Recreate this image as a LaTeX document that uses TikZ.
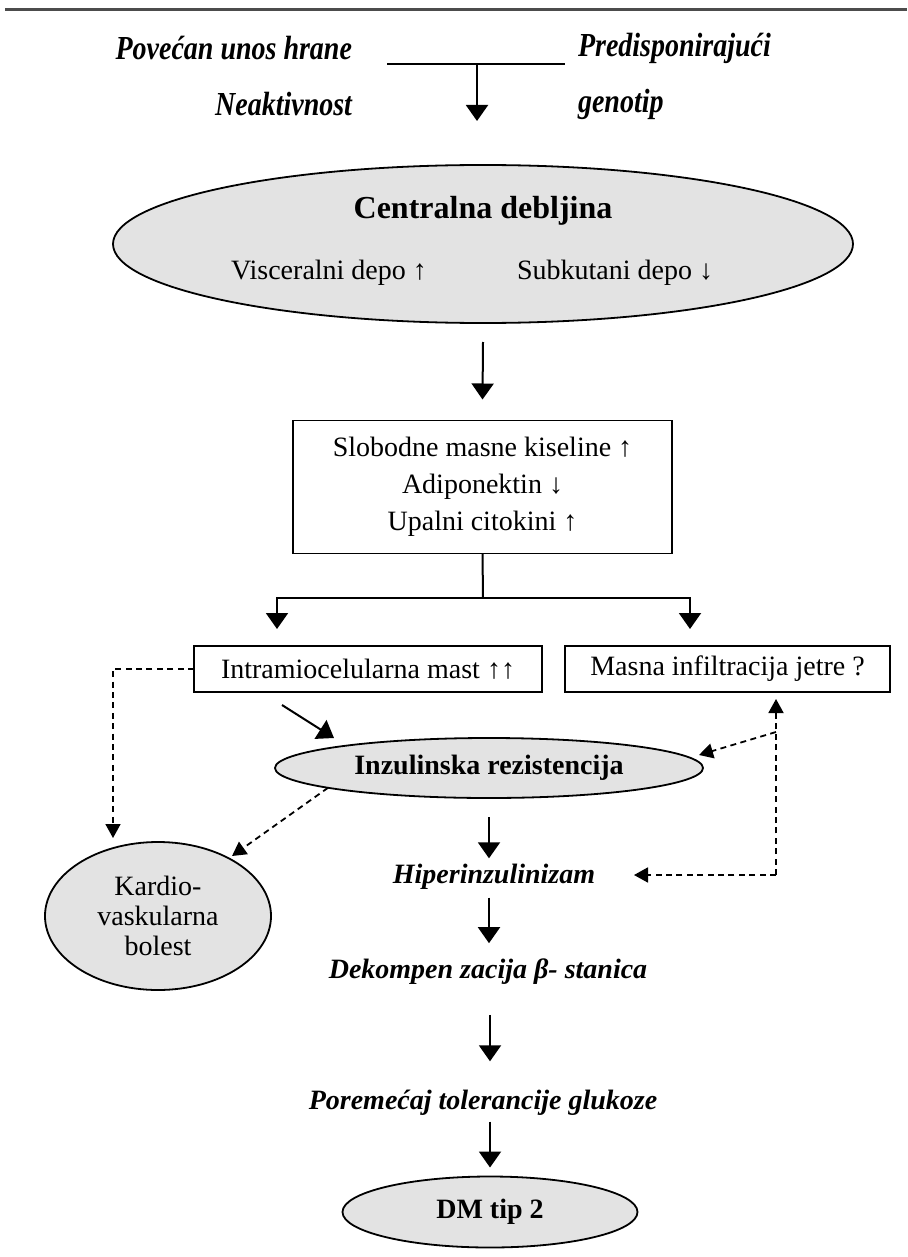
\documentclass[tikz,border=0pt]{standalone}
\usepackage{fontspec}
\usepackage{graphicx}
\setmainfont{Liberation Serif}
\usetikzlibrary{arrows.meta,shapes.geometric}
\definecolor{ellgray}{gray}{0.89}
\definecolor{rulegray}{gray}{0.3}
\newcommand{\tallbi}[1]{\scalebox{1}[1.2]{#1}}
\begin{document}
\begin{tikzpicture}[x=0.5pt,y=-0.5pt,
  every node/.style={inner sep=0pt, outer sep=0pt},
  ell/.style={ellipse, draw, fill=ellgray, line width=0.9pt},
  rbox/.style={draw, line width=0.9pt, minimum height=23pt},
  plain/.style={line width=1pt},
  arr/.style={line width=1pt, -{Triangle[width=11pt,length=8pt]}},
  dline/.style={line width=0.9pt, dash pattern=on 3pt off 2.2pt},
  darr/.style={dline, -{Triangle[width=7.5pt,length=7pt]}},
  bi/.style={font=\fontsize{14}{16}\selectfont\bfseries\itshape},
  rm/.style={font=\fontsize{14}{16}\selectfont},
  bf/.style={font=\fontsize{14}{16}\selectfont\bfseries},
]
\useasboundingbox (0,0) rectangle (907,1257);
% top rule
\coordinate (ruleL) at (5,10);
\coordinate (ruleR) at (907,10);
\draw[rulegray, line width=1.5pt] (ruleL) -- (ruleR);

% causes
\node[bi, anchor=east] (povecan) at (352,48) {\tallbi{Povećan unos hrane}};
\node[bi, anchor=east] (neakt) at (352,104) {\tallbi{Neaktivnost}};
\node[bi, anchor=west] (predisp) at (578,48) {\tallbi{Predisponirajući}};
\node[bi, anchor=west] (genotip) at (578,104) {\tallbi{genotip}};
\coordinate (tl) at (387,64);
\coordinate (tr) at (565,64);
\coordinate (tm) at (477,64);
\coordinate (ttip) at (477,121);
\draw[plain] (tl) -- (tr);
\draw[arr] (tm) -- (ttip);

% central obesity
\node[ell, minimum width=370pt, minimum height=79pt] (cd) at (483,244) {};
\node[font=\fontsize{16}{18}\selectfont\bfseries] (cdt) at (483,211) {Centralna debljina};
\node[rm] (visc) at (329,273) {Visceralni depo ↑};
\node[rm] (subk) at (615,273) {Subkutani depo ↓};

% box
\node[rbox, minimum width=189.5pt, minimum height=66.5pt, align=center,
      font=\fontsize{14}{18.5}\selectfont] (smk) at (482.5,487)
  {Slobodne masne kiseline ↑\\Adiponektin ↓\\Upalni citokini ↑};
\draw[arr] ([yshift=-9.5pt]cd.south) -- ([yshift=10.5pt]smk.north);

% branch
\coordinate (br) at (483,598);
\coordinate (ltip) at (277,629);
\coordinate (rtip) at (690,629);
\draw[plain] (smk.south) -- (br);
\draw[arr] (br) -| (ltip);
\draw[arr] (br) -| (rtip);

\node[rbox, rm, minimum width=174pt] (intra) at (368,669) {Intramiocelularna mast ↑↑};
\node[rbox, rm, minimum width=162.5pt] (masna) at (727.5,669) {Masna infiltracija jetre ?};

% insulin resistance
\node[ell, bf, minimum width=214pt, minimum height=30pt] (inz) at (489,768) {Inzulinska rezistencija};
\coordinate (a1s) at (282,705);
\coordinate (a1e) at (334,738);
\draw[arr] (a1s) -- (a1e);

% cardiovascular
\node[ell, rm, minimum width=113pt, minimum height=74pt, align=center,
      font=\fontsize{14}{14.8}\selectfont] (kard) at (158,916) {Kardio-\\vaskularna\\bolest};
\coordinate (ktip) at (113,838);
\draw[darr] (intra.west) -| (ktip);
\coordinate (kdtip) at (232,856);
\draw[darr] (inz.187) -- (kdtip);

% chain
\node[bi] (hiper) at (494,877) {Hiperinzulinizam};
\node[bi] (dekomp) at (488,972) {Dekompen zacija β- stanica};
\node[bi] (porem) at (483,1103) {Poremećaj tolerancije glukoze};
\node[ell, bf, minimum width=147.5pt, minimum height=35.5pt] (dm) at (490,1212) {DM tip 2};

\draw[arr] ([yshift=-9.5pt]inz.south) -- ([yshift=3pt]hiper.north -| inz.south);
\draw[arr] ([yshift=-4pt]hiper.south -| inz.south) -- ([yshift=8pt]dekomp.north -| inz.south);
\draw[arr] ([yshift=-15pt]dekomp.south -| dm.north) -- ([yshift=14.5pt]porem.north -| dm.north);
\draw[arr] ([yshift=-3pt]porem.south -| dm.north) -- ([yshift=4.5pt]dm.north);

% liver dashed connections
\coordinate (vr) at (776,875);
\coordinate (vm) at (776,732);
\coordinate (mtip) at (776,699);
\coordinate (itip) at (699,755);
\coordinate (htip) at (634,875);
\draw[darr] (vr) -- (mtip);
\draw[darr] (vm) -- (itip);
\draw[darr] (vr) -- (htip);
\end{tikzpicture}
\end{document}
